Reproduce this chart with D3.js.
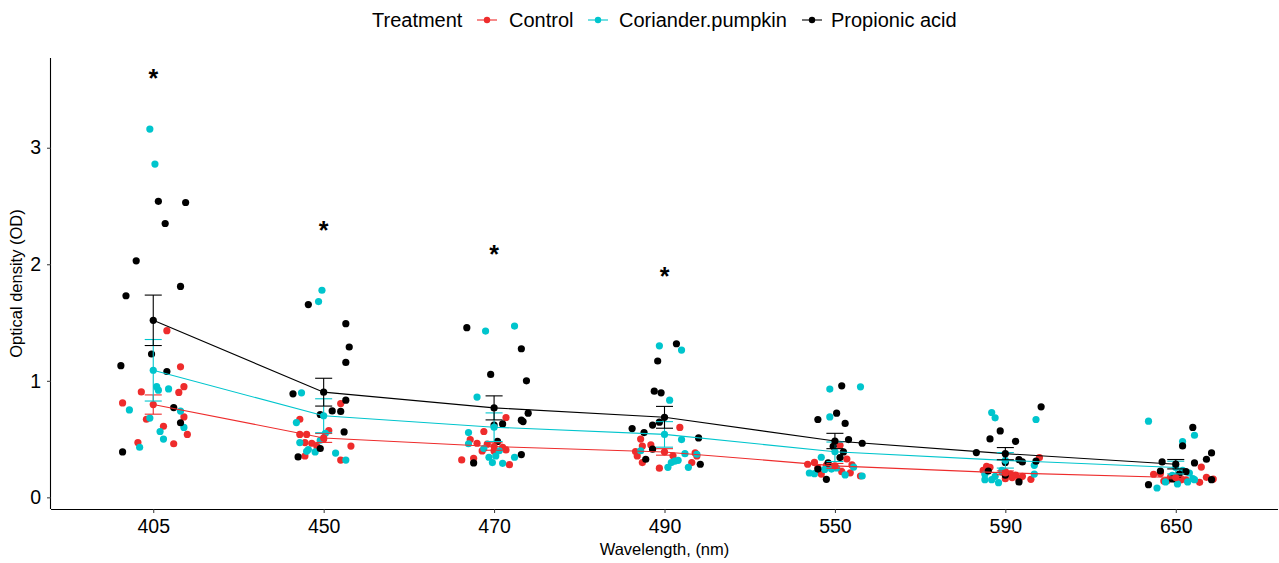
<!DOCTYPE html>
<html>
<head>
<meta charset="utf-8">
<script src="https://cdn.jsdelivr.net/npm/d3@7"></script>
<style>
  html, body { margin: 0; padding: 0; background: #ffffff; }
  svg { display: block; }
  text { font-family: "Liberation Sans", Arial, sans-serif; }
</style>
</head>
<body>
<svg id="chart" width="1279" height="563"></svg>
<script>
// ---------------- DATA ----------------
const wavelengths = ["405", "450", "470", "490", "550", "590", "650"];
const treatments = ["Control", "Coriander.pumpkin", "Propionic acid"];
const treatmentColors = ["#EE2C2C", "#00C5CD", "#000000"];

// Optical density of each replicate, one inner array per wavelength
const controlOD = [
  [1.43, 1.12, 0.95, 0.905, 0.90, 0.81, 0.67, 0.69, 0.61, 0.54, 0.47, 0.46],
  [0.805, 0.67, 0.573, 0.54, 0.54, 0.47, 0.464, 0.50, 0.44, 0.355, 0.32, 0.44],
  [0.685, 0.565, 0.496, 0.464, 0.456, 0.428, 0.407, 0.398, 0.398, 0.321, 0.335, 0.28],
  [0.60, 0.50, 0.44, 0.393, 0.355, 0.357, 0.381, 0.355, 0.298, 0.298, 0.25, 0.45],
  [0.447, 0.329, 0.284, 0.275, 0.278, 0.255, 0.183, 0.30, 0.26, 0.22, 0.21, 0.20],
  [0.341, 0.266, 0.258, 0.232, 0.18, 0.155, 0.22, 0.20, 0.19, 0.17, 0.16, 0.15],
  [0.26, 0.198, 0.204, 0.175, 0.172, 0.129, 0.14, 0.157, 0.16, 0.15, 0.15, 0.145]
];
const corianderOD = [
  [3.16, 2.86, 0.95, 0.92, 0.93, 0.75, 0.68, 0.74, 0.60, 0.565, 0.50, 0.43],
  [1.777, 1.68, 0.897, 0.642, 0.47, 0.49, 0.41, 0.395, 0.39, 0.38, 0.32, 0.55],
  [1.427, 1.47, 0.86, 0.556, 0.46, 0.419, 0.344, 0.355, 0.298, 0.292, 0.344, 0.40],
  [1.30, 1.264, 0.834, 0.496, 0.40, 0.375, 0.37, 0.31, 0.318, 0.298, 0.258, 0.258],
  [0.929, 0.948, 0.69, 0.344, 0.26, 0.24, 0.243, 0.252, 0.209, 0.203, 0.192, 0.183],
  [0.728, 0.682, 0.668, 0.275, 0.198, 0.232, 0.218, 0.18, 0.152, 0.152, 0.126, 0.20],
  [0.654, 0.533, 0.479, 0.232, 0.209, 0.189, 0.161, 0.152, 0.132, 0.132, 0.115, 0.08]
];
const propionicOD = [
  [2.54, 2.53, 2.35, 2.03, 1.81, 1.73, 1.23, 1.13, 1.08, 0.77, 0.64, 0.39],
  [1.654, 1.49, 1.29, 1.158, 0.888, 0.834, 0.742, 0.737, 0.711, 0.561, 0.419, 0.347],
  [1.456, 1.275, 1.055, 1.0, 0.722, 0.662, 0.65, 0.63, 0.62, 0.295, 0.367, 0.48],
  [1.318, 1.17, 0.911, 0.897, 0.59, 0.62, 0.645, 0.556, 0.51, 0.413, 0.327, 0.284],
  [0.957, 0.722, 0.668, 0.634, 0.496, 0.464, 0.438, 0.39, 0.341, 0.295, 0.243, 0.155],
  [0.777, 0.57, 0.501, 0.481, 0.384, 0.324, 0.304, 0.30, 0.31, 0.226, 0.19, 0.132],
  [0.60, 0.441, 0.381, 0.327, 0.304, 0.295, 0.226, 0.22, 0.158, 0.152, 0.109, 0.20]
];

// horizontal jitter of each replicate, in wavelength-category units
const controlJitter = [
  [0.08, 0.16, 0.18, -0.07, 0.15, -0.18, -0.04, 0.18, 0.06, 0.20, -0.09, 0.12],
  [0.10, -0.14, 0.03, -0.14, -0.10, -0.11, -0.07, 0.00, 0.16, -0.11, 0.10, -0.04],
  [0.07, -0.06, -0.14, -0.10, -0.04, 0.05, 0.07, -0.07, 0.00, -0.19, -0.12, 0.09],
  [0.09, -0.14, -0.13, -0.17, -0.16, 0.05, 0.18, 0.19, -0.13, 0.16, -0.03, -0.08],
  [0.03, 0.07, -0.16, -0.05, 0.10, -0.10, 0.15, -0.12, -0.02, 0.04, 0.09, -0.08],
  [0.20, -0.11, -0.09, -0.13, 0.10, 0.15, 0.00, 0.03, 0.06, 0.04, 0.00, 0.08],
  [0.15, -0.13, -0.09, -0.03, 0.18, 0.14, -0.07, 0.22, -0.01, 0.03, 0.06, -0.05]
];
const corianderJitter = [
  [-0.02, 0.01, 0.02, 0.03, 0.09, -0.14, -0.02, 0.16, 0.18, 0.04, 0.06, -0.08],
  [-0.01, -0.03, -0.13, -0.16, -0.14, -0.02, -0.09, -0.10, -0.05, 0.07, 0.13, 0.01],
  [-0.05, 0.12, -0.10, -0.15, -0.15, -0.06, -0.03, 0.01, -0.01, 0.05, 0.12, 0.03],
  [-0.03, 0.10, 0.03, 0.10, -0.14, 0.12, 0.19, 0.06, 0.08, 0.04, 0.02, 0.14],
  [-0.03, 0.15, -0.03, -0.08, 0.11, -0.06, -0.02, 0.01, -0.15, -0.12, 0.06, 0.16],
  [-0.08, -0.06, 0.18, 0.17, -0.12, -0.02, -0.02, -0.06, -0.08, -0.12, -0.04, 0.17],
  [-0.16, 0.11, 0.04, 0.04, 0.08, -0.02, 0.10, 0.11, 0.07, -0.06, 0.01, -0.11]
];
const propionicJitter = [
  [0.03, 0.19, 0.07, -0.10, 0.16, -0.16, -0.01, -0.19, 0.08, 0.12, 0.16, -0.18],
  [-0.09, 0.13, 0.15, 0.13, -0.18, 0.13, 0.05, 0.10, -0.02, 0.12, -0.02, -0.15],
  [-0.16, 0.16, -0.02, 0.19, 0.20, 0.16, 0.17, 0.05, 0.00, -0.12, 0.16, 0.02],
  [0.07, -0.04, -0.06, -0.02, -0.19, -0.07, -0.03, -0.12, 0.20, -0.07, -0.11, 0.21],
  [0.04, 0.01, -0.10, 0.06, 0.08, 0.16, -0.01, 0.05, 0.03, -0.04, -0.10, -0.05],
  [0.21, -0.03, -0.09, 0.06, -0.17, 0.08, 0.10, 0.00, 0.18, -0.10, 0.00, 0.08],
  [0.10, 0.04, 0.21, 0.18, -0.08, 0.11, -0.09, 0.06, -0.02, 0.21, -0.16, 0.02]
];

// significance markers
const sigWavelengths = ["405", "450", "470", "490"];
const sigY = [3.64, 2.34, 2.13, 1.94];

const yTicks = [0, 1, 2, 3];
const yDomain = [-0.1, 3.77];

// ---------------- LAYOUT ----------------
const svg = d3.select("#chart");
const plot = { left: 51, right: 1278, top: 58, bottom: 509 };

const x = d3.scalePoint().domain(wavelengths).range([plot.left, plot.right]).padding(0.6);
const y = d3.scaleLinear().domain(yDomain).range([plot.bottom, plot.top]);
const step = x.step();

const valueSets = [controlOD, corianderOD, propionicOD];
const jitterSets = [controlJitter, corianderJitter, propionicJitter];

// summary (mean ± SE) per treatment & wavelength
const summaries = treatments.map((t, ti) => wavelengths.map((w, wi) => {
  const v = valueSets[ti][wi];
  const m = d3.mean(v);
  const se = d3.deviation(v) / Math.sqrt(v.length);
  return { treatment: t, wl: w, mean: m, lo: m - se, hi: m + se };
}));

// ---------------- AXES ----------------
const xAxis = svg.append("g")
  .attr("transform", `translate(0,${plot.bottom})`)
  .call(d3.axisBottom(x).tickSize(4).tickPadding(6).tickSizeOuter(0));
xAxis.select(".domain").attr("d", `M${plot.left},0.5H${plot.right}`).attr("stroke", "#000").attr("stroke-width", 1.1);
xAxis.selectAll(".tick line").attr("stroke", "#333");
xAxis.selectAll(".tick text").attr("font-size", 19.5).attr("fill", "#000")
  .style("font-family", '"Liberation Sans", Arial, sans-serif');

const yAxis = svg.append("g")
  .attr("transform", `translate(${plot.left},0)`)
  .call(d3.axisLeft(y).tickValues(yTicks).tickFormat(d3.format("d")).tickSize(4).tickPadding(6).tickSizeOuter(0));
yAxis.select(".domain").attr("d", `M-0.5,${plot.top}V${plot.bottom}`).attr("stroke", "#000").attr("stroke-width", 1.1);
yAxis.selectAll(".tick line").attr("stroke", "#333");
yAxis.selectAll(".tick text").attr("font-size", 19.5).attr("fill", "#000")
  .style("font-family", '"Liberation Sans", Arial, sans-serif');

svg.append("text")
  .attr("x", (plot.left + plot.right) / 2).attr("y", 555)
  .attr("text-anchor", "middle").attr("font-size", 16.5).attr("fill", "#000")
  .text("Wavelength, (nm)");

svg.append("text")
  .attr("transform", `translate(22,${(plot.top + plot.bottom) / 2}) rotate(-90)`)
  .attr("text-anchor", "middle").attr("font-size", 16.5).attr("fill", "#000")
  .text("Optical density (OD)");

// ---------------- MARKS ----------------
const R = 3.6;
const gPts = svg.append("g");
treatments.forEach((t, ti) => {
  wavelengths.forEach((w, wi) => {
    const vals = valueSets[ti][wi];
    const jit = jitterSets[ti][wi];
    gPts.selectAll(null)
      .data(vals.map((v, i) => ({ v, j: jit[i] })))
      .enter().append("circle")
      .attr("cx", d => x(w) + d.j * step)
      .attr("cy", d => y(d.v))
      .attr("r", R)
      .attr("fill", treatmentColors[ti]);
  });
});

const line = d3.line().x(d => x(d.wl)).y(d => y(d.mean));
summaries.forEach((s, ti) => {
  svg.append("path").datum(s)
    .attr("d", line).attr("fill", "none")
    .attr("stroke", treatmentColors[ti]).attr("stroke-width", 1.1);
});

const capHalf = 0.05 * step;
summaries.forEach((s, ti) => {
  const g = svg.append("g").attr("stroke", treatmentColors[ti]).attr("stroke-width", 1.1);
  s.forEach(d => {
    const cx = x(d.wl);
    g.append("line").attr("x1", cx).attr("x2", cx).attr("y1", y(d.lo)).attr("y2", y(d.hi));
    g.append("line").attr("x1", cx - capHalf).attr("x2", cx + capHalf).attr("y1", y(d.lo)).attr("y2", y(d.lo));
    g.append("line").attr("x1", cx - capHalf).attr("x2", cx + capHalf).attr("y1", y(d.hi)).attr("y2", y(d.hi));
  });
  svg.append("g").selectAll("circle").data(s).enter().append("circle")
    .attr("cx", d => x(d.wl)).attr("cy", d => y(d.mean)).attr("r", R)
    .attr("fill", treatmentColors[ti]);
});

// significance asterisks
svg.append("g").selectAll("text").data(sigWavelengths).enter().append("text")
  .attr("x", d => x(d))
  .attr("y", (d, i) => y(sigY[i]) + 14)
  .attr("text-anchor", "middle").attr("font-size", 25).attr("font-weight", "bold")
  .attr("fill", "#000")
  .text("*");

// ---------------- LEGEND ----------------
const legend = svg.append("g");
legend.append("text").attr("x", 372).attr("y", 27).attr("font-size", 20).attr("fill", "#000").text("Treatment");
const keyX = [487, 598, 812];
const labX = [509, 619, 831];
treatments.forEach((t, ti) => {
  legend.append("line").attr("x1", keyX[ti] - 10).attr("x2", keyX[ti] + 10)
    .attr("y1", 20).attr("y2", 20).attr("stroke", treatmentColors[ti]).attr("stroke-width", 1.1);
  legend.append("circle").attr("cx", keyX[ti]).attr("cy", 20).attr("r", 3.2).attr("fill", treatmentColors[ti]);
  legend.append("text").attr("x", labX[ti]).attr("y", 27).attr("font-size", 20).attr("fill", "#000").text(t);
});
</script>
</body>
</html>
